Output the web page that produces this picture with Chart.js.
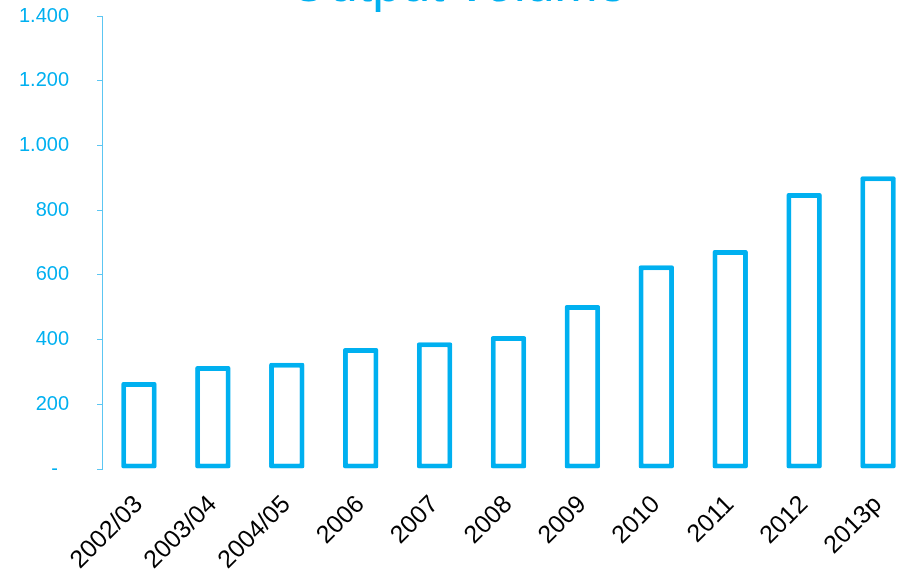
<!DOCTYPE html>
<html>
<head>
<meta charset="utf-8">
<script src="https://cdn.jsdelivr.net/npm/chart.js@4"></script>
<style>
  html, body { margin: 0; padding: 0; background: #fff; overflow: hidden; }
  #wrap { position: absolute; left: 0; top: -67px; width: 948px; height: 640px; }
</style>
</head>
<body>
<div id="wrap"><canvas id="myChart" width="948" height="640"></canvas></div>
<script>
const years = ["2002/03", "2003/04", "2004/05", "2006", "2007", "2008", "2009", "2010", "2011", "2012", "2013p"];
const volume = [269, 318, 328, 374, 392, 411, 507, 630, 677, 853, 905];
const yTicks = [0, 200, 400, 600, 800, 1000, 1200, 1400];

const cyan = "#00B0F0";
const font = "'Liberation Sans', Arial, sans-serif";

function fmt(v) {
    if (v === 0) return "-  ";
    return String(v).replace(/\B(?=(\d{3})+(?!\d))/g, ".");
}

let ctx = document.getElementById("myChart").getContext("2d");
let myChart = new Chart(ctx, {
    type: "bar",
    data: {
        labels: years,
        datasets: [
            {
                label: "Output volume",
                data: volume,
                backgroundColor: "#ffffff",
                borderColor: cyan,
                borderWidth: 5,
                borderSkipped: false,
                borderRadius: 2,
                categoryPercentage: 1,
                barPercentage: 0.48,
            },
        ],
    },
    options: {
        responsive: false,
        animation: false,
        layout: { padding: { left: 0, right: 33, top: 0, bottom: 0 } },
        plugins: {
            legend: { display: false },
            tooltip: { enabled: false },
            title: {
                display: true,
                text: "Output volume",
                color: cyan,
                font: { family: font, size: 52, weight: "normal", lineHeight: 1 },
                padding: { top: 28, bottom: 3 },
            },
        },
        scales: {
            x: {
                grid: { display: false },
                border: { display: false },
                ticks: {
                    color: "#000",
                    font: { family: font, size: 25 },
                    maxRotation: 45,
                    minRotation: 45,
                    padding: 13,
                },
                afterFit: (s) => { s.height = 104; },
            },
            y: {
                min: 0,
                max: 1400,
                afterBuildTicks: (s) => { s.ticks = yTicks.map(v => ({ value: v })); },
                grid: { drawOnChartArea: false, drawTicks: true, tickLength: 5, color: "#5CC6F2" },
                border: { display: true, color: "#5CC6F2", width: 1 },
                ticks: {
                    color: cyan,
                    font: { family: font, size: 20 },
                    padding: 28,
                    callback: (v) => fmt(v),
                },
                afterFit: (s) => { s.width = 102; },
            },
        },
    },
});
</script>
</body>
</html>
